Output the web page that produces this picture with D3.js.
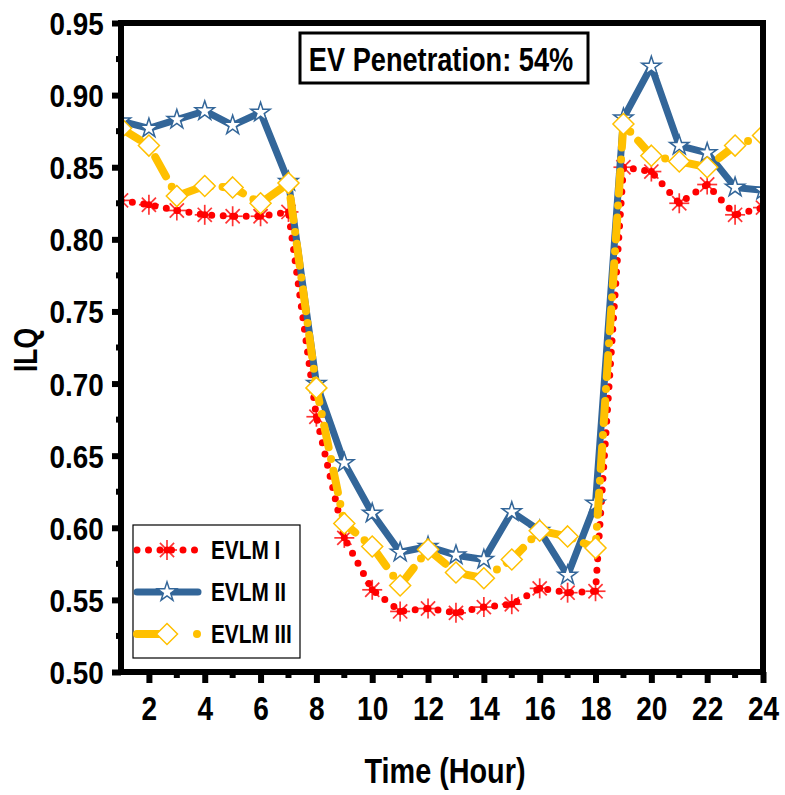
<!DOCTYPE html>
<html>
<meta charset="utf-8" />
<script src="https://cdn.jsdelivr.net/npm/d3@7"></script>
<style>
  html, body { margin: 0; padding: 0; background: #fff; }
  text { font-family: "Liberation Sans", Arial, sans-serif; font-weight: bold; fill: #000; }
</style>
<body>
<div id="chart"></div>
<script>
// hours 1..24
var hours = d3.range(1, 25);
var evlm1 = [0.827, 0.824, 0.820, 0.817, 0.816, 0.816, 0.819, 0.677, 0.593, 0.557, 0.542, 0.544,
             0.541, 0.545, 0.547, 0.558, 0.555, 0.556, 0.850, 0.847, 0.825, 0.838, 0.817, 0.822];
var evlm2 = [0.882, 0.877, 0.883, 0.889, 0.879, 0.888, 0.840, 0.700, 0.645, 0.610, 0.583, 0.587,
             0.581, 0.578, 0.611, 0.598, 0.567, 0.617, 0.884, 0.920, 0.865, 0.860, 0.836, 0.834];
var evlm3 = [0.877, 0.865, 0.830, 0.837, 0.836, 0.825, 0.839, 0.697, 0.603, 0.587, 0.560, 0.585,
             0.569, 0.565, 0.578, 0.598, 0.594, 0.586, 0.880, 0.858, 0.854, 0.850, 0.865, 0.872];
var seriesNames = ['EVLM I', 'EVLM II', 'EVLM III'];
var xTicks = d3.range(2, 25, 2);
var yTicks = d3.range(0, 10).map(function (i) { return +(0.5 + i * 0.05).toFixed(2); });

var W = 785, H = 795;
var pLeft = 121, pRight = 763, pTop = 23, pBottom = 672;
var narrow = 0.8; // the reference uses a condensed face

var svg = d3.select('#chart').append('svg').attr('width', W).attr('height', H);

var x = d3.scaleLinear().domain([1, 24]).range([pLeft, pRight]);
var y = d3.scaleLinear().domain([0.5, 0.95]).range([pBottom, pTop]);

svg.append('defs').append('clipPath').attr('id', 'clip')
  .append('rect').attr('x', pLeft).attr('y', pTop).attr('width', pRight - pLeft).attr('height', pBottom - pTop);

var styles = [
  { color: '#ff0000', width: 7, dash: '0 11.5', legendDash: '0 11.5', marker: 'asterisk' },
  { color: '#336699', width: 7, dash: null, legendDash: null, marker: 'star' },
  { color: '#ffc000', width: 8, dash: '22 12 0 12', legendDash: '24 36 0 100', marker: 'diamond' }
];
var allSeries = [evlm1, evlm2, evlm3];

var line = d3.line()
  .x(function (d, i) { return x(hours[i]); })
  .y(function (d) { return y(d); });

function drawMarker(g, type, cx, cy) {
  if (type === 'asterisk') {
    var r = 10;
    [0, 45, 90, 135].forEach(function (a) {
      var rad = a * Math.PI / 180;
      g.append('line')
        .attr('x1', cx - r * Math.cos(rad)).attr('y1', cy - r * Math.sin(rad))
        .attr('x2', cx + r * Math.cos(rad)).attr('y2', cy + r * Math.sin(rad))
        .attr('stroke', '#ff0000').attr('stroke-opacity', 0.8).attr('stroke-width', 1.7);
    });
    g.append('circle').attr('cx', cx).attr('cy', cy).attr('r', 3.5).attr('fill', '#ff0000');
  } else if (type === 'star') {
    g.append('path')
      .attr('d', d3.symbol().type(d3.symbolStar).size(115)())
      .attr('transform', 'translate(' + cx + ',' + cy + ')')
      .attr('fill', '#fff').attr('stroke', '#336699').attr('stroke-width', 1.5);
  } else {
    var s = 10.5;
    g.append('path')
      .attr('d', 'M' + cx + ',' + (cy - s) + 'L' + (cx + s) + ',' + cy + 'L' + cx + ',' + (cy + s) + 'L' + (cx - s) + ',' + cy + 'Z')
      .attr('fill', '#fff').attr('stroke', '#ffc000').attr('stroke-width', 1.5);
  }
}

var plot = svg.append('g').attr('clip-path', 'url(#clip)');

allSeries.forEach(function (data, k) {
  var st = styles[k];
  var g = plot.append('g');
  g.append('path').datum(data)
    .attr('d', line)
    .attr('fill', 'none')
    .attr('stroke', st.color)
    .attr('stroke-width', st.width)
    .attr('stroke-linecap', 'round')
    .attr('stroke-linejoin', 'round')
    .attr('stroke-dasharray', st.dash);
  data.forEach(function (v, i) {
    drawMarker(g, st.marker, x(hours[i]), y(v));
  });
});

// frame (top and right)
var axisW = 6;
svg.append('line').attr('x1', pLeft - 3).attr('x2', pRight + 3).attr('y1', pTop).attr('y2', pTop)
  .attr('stroke', '#000').attr('stroke-width', axisW);
svg.append('line').attr('x1', pRight).attr('x2', pRight).attr('y1', pTop).attr('y2', pBottom)
  .attr('stroke', '#000').attr('stroke-width', axisW);

// y axis
var yAxis = svg.append('g').attr('transform', 'translate(' + pLeft + ',0)')
  .call(d3.axisLeft(y).tickValues(yTicks).tickFormat(d3.format('.2f')).tickSize(9).tickPadding(11));
yAxis.select('.domain').attr('stroke-width', axisW).attr('d', 'M0,' + (pTop - 3) + 'V' + (pBottom + 3));
yAxis.selectAll('.tick line').attr('stroke-width', axisW);
yAxis.selectAll('.tick text').style('font-size', '32px').attr('dy', '0.36em')
  .attr('transform', 'scale(0.87,1)');
yAxis.selectAll('.minor').data(yTicks.slice(0, -1)).enter().append('line')
  .attr('x1', 0).attr('x2', -5)
  .attr('y1', function (d) { return y(d + 0.025); }).attr('y2', function (d) { return y(d + 0.025); })
  .attr('stroke', '#000').attr('stroke-width', axisW);

// x axis
var xAxis = svg.append('g').attr('transform', 'translate(0,' + pBottom + ')')
  .call(d3.axisBottom(x).tickValues(xTicks).tickFormat(d3.format('d')).tickSize(11).tickPadding(14));
xAxis.select('.domain').attr('stroke-width', axisW).attr('d', 'M' + (pLeft - 3) + ',0H' + (pRight + 3));
xAxis.selectAll('.tick line').attr('stroke-width', axisW);
xAxis.selectAll('.tick text').style('font-size', '33px').attr('dy', '0.71em')
  .attr('transform', 'scale(0.85,1)');
xAxis.selectAll('.minor').data(d3.range(3, 24, 2)).enter().append('line')
  .attr('x1', function (d) { return x(d); }).attr('x2', function (d) { return x(d); })
  .attr('y1', 0).attr('y2', 6)
  .attr('stroke', '#000').attr('stroke-width', axisW);

function label(sel, tx, ty, size, txt, rot) {
  return sel.append('text')
    .attr('transform', 'translate(' + tx + ',' + ty + ')' + (rot ? ' rotate(' + rot + ')' : '') + ' scale(' + narrow + ',1)')
    .attr('text-anchor', 'middle').style('font-size', size + 'px').text(txt);
}

// axis titles
label(svg, 445, 783, 36, 'Time (Hour)');
label(svg, 37, 350, 33, 'ILQ', -90);

// title box
svg.append('rect').attr('x', 300).attr('y', 33).attr('width', 288).attr('height', 50)
  .attr('fill', '#fff').attr('stroke', '#000').attr('stroke-width', 3);
label(svg, 441, 71, 34, 'EV Penetration: 54%');

// legend
var lg = svg.append('g');
lg.append('rect').attr('x', 133).attr('y', 525).attr('width', 167).attr('height', 133)
  .attr('fill', '#fff').attr('stroke', '#000').attr('stroke-width', 1.2);
seriesNames.forEach(function (name, k) {
  var st = styles[k];
  var ly = 550 + k * 42;
  lg.append('path').attr('d', 'M137,' + ly + 'H198')
    .attr('stroke', st.color).attr('stroke-width', st.width)
    .attr('stroke-linecap', 'round').attr('stroke-dasharray', st.legendDash);
  drawMarker(lg, st.marker, 167, ly);
  lg.append('text')
    .attr('transform', 'translate(211,' + (ly + 9) + ') scale(' + narrow + ',1)')
    .style('font-size', '26px').text(name);
});
</script>
</body>
</html>
